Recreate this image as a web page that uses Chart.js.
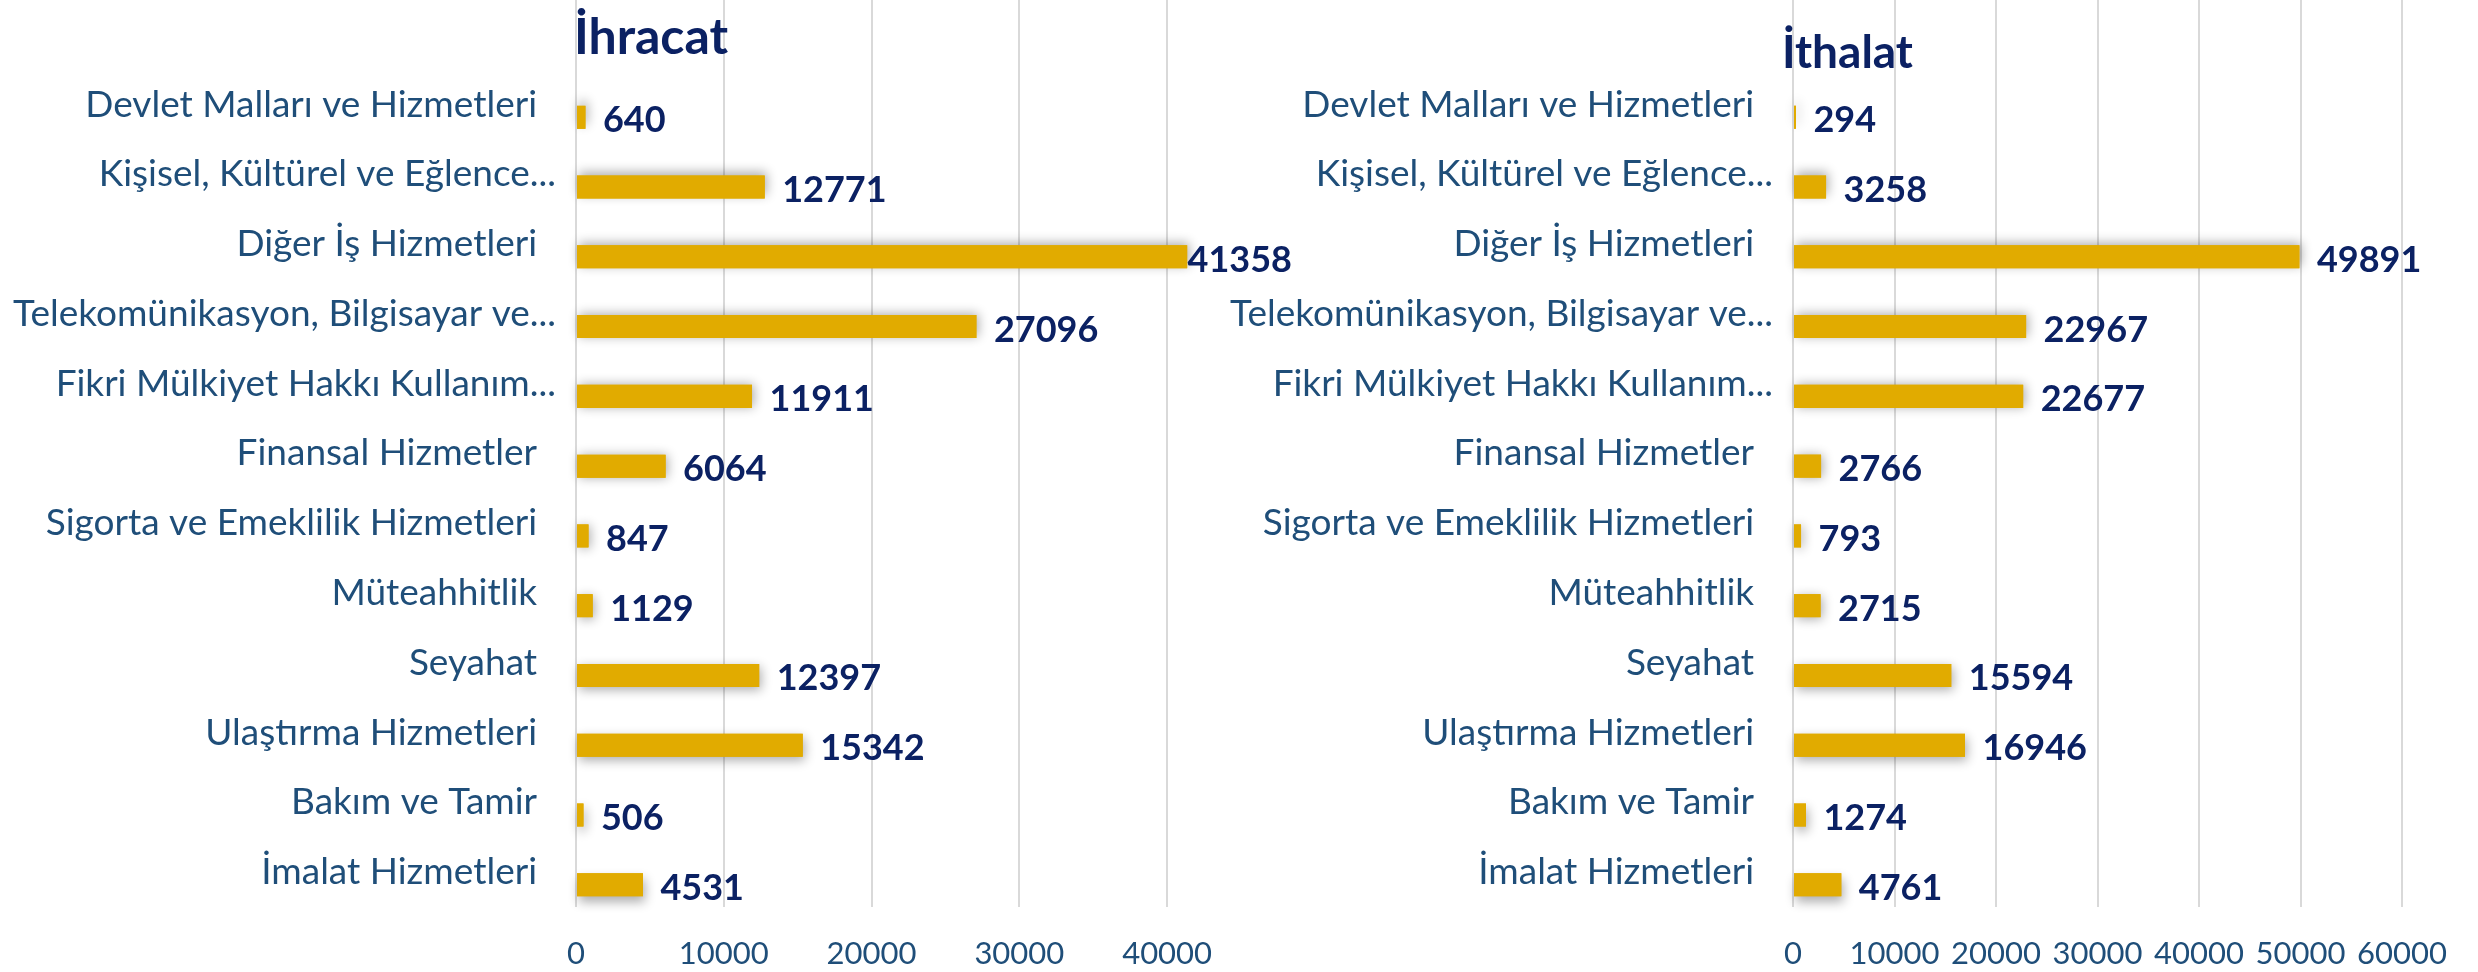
<!DOCTYPE html>
<html>
<head>
<meta charset="utf-8">
<script src="https://cdn.jsdelivr.net/npm/chart.js@4.4.1/dist/chart.umd.min.js"></script>
<style>
  html, body { margin: 0; padding: 0; background: #ffffff; width: 2478px; height: 972px; overflow: hidden; }
  .panel { position: absolute; top: 0; }
  #panelExport { left: 0; }
  #panelImport { left: 1200px; }
</style>
</head>
<body>
<div class="panel" id="panelExport"><canvas id="chartExport" width="1300" height="972"></canvas></div>
<div class="panel" id="panelImport"><canvas id="chartImport" width="1278" height="972"></canvas></div>
<script>
// ---------- DATA ----------
const categories = [
  'Devlet Malları ve Hizmetleri',
  'Kişisel, Kültürel ve Eğlence...',
  'Diğer İş Hizmetleri',
  'Telekomünikasyon, Bilgisayar ve...',
  'Fikri Mülkiyet Hakkı Kullanım...',
  'Finansal Hizmetler',
  'Sigorta ve Emeklilik Hizmetleri',
  'Müteahhitlik',
  'Seyahat',
  'Ulaştırma Hizmetleri',
  'Bakım ve Tamir',
  'İmalat Hizmetleri'
];
const exportValues = [640, 12771, 41358, 27096, 11911, 6064, 847, 1129, 12397, 15342, 506, 4531];
const importValues = [294, 3258, 49891, 22967, 22677, 2766, 793, 2715, 15594, 16946, 1274, 4761];
const exportTicks = [0, 10000, 20000, 30000, 40000];
const importTicks = [0, 10000, 20000, 30000, 40000, 50000, 60000];
const exportTitle = 'İhracat';
const importTitle = 'İthalat';

// ---------- STYLE ----------
const FONT = 'Lato';
const BAR_COLOR = '#E1AB00';
const NAVY = '#0B2163';
const LABEL_COLOR = '#1F4E79';
const GRID_COLOR = '#D9D9D9';

// bar shadow (perspective-like haze)
const barShadow = {
  id: 'barShadow',
  beforeDatasetDraw(chart, args) {
    if (args.index !== 1) return;
    const ctx = chart.ctx;
    const area = chart.chartArea;
    const mid = (area.top + area.bottom) / 2;
    const half = (area.bottom - area.top) / 2;
    args.meta.data.forEach((bar, i) => {
      if (chart.data.datasets[1].data[i] == null) return;
      ctx.save();
      ctx.shadowColor = 'rgba(0,0,0,0.32)';
      ctx.shadowBlur = 11;
      ctx.shadowOffsetX = 2;
      ctx.shadowOffsetY = (bar.y - mid) / half * 6;
      bar.draw(ctx, area);
      ctx.restore();
    });
  }
};

// value labels (outside end, kept inside the chart box)
const valueLabels = {
  id: 'valueLabels',
  afterDatasetsDraw(chart) {
    const ctx = chart.ctx;
    const meta = chart.getDatasetMeta(1);
    const vals = chart.data.datasets[1].data;
    ctx.save();
    ctx.font = 'bold 36px ' + FONT;
    ctx.fillStyle = NAVY;
    ctx.textAlign = 'left';
    ctx.textBaseline = 'alphabetic';
    meta.data.forEach((bar, i) => {
      const v = vals[i];
      if (v == null) return;
      const txt = String(v);
      const w = ctx.measureText(txt).width;
      const x = Math.min(bar.x + 17.5, chart.width - 8 - w);
      ctx.fillText(txt, x, bar.y + 15);
    });
    ctx.restore();
  }
};

// panel title, aligned to the plot area
const panelTitle = {
  id: 'panelTitle',
  afterDraw(chart, args, opts) {
    const ctx = chart.ctx;
    ctx.save();
    ctx.font = 'bold ' + opts.size + 'px ' + FONT;
    ctx.fillStyle = NAVY;
    ctx.textAlign = 'left';
    ctx.textBaseline = 'alphabetic';
    ctx.fillText(opts.text, chart.chartArea.left + opts.dx, opts.baseline);
    ctx.restore();
  }
};

function makeChart(canvasId, values, ticks, xMax, axisWidth, padRight, titleOpts) {
  const labels = [''].concat(categories);
  return new Chart(document.getElementById(canvasId), {
    type: 'bar',
    data: {
      labels: labels,
      datasets: [
        { data: labels.map(() => null), backgroundColor: 'rgba(0,0,0,0)' },
        { data: [null].concat(values), backgroundColor: BAR_COLOR, borderWidth: 0 }
      ]
    },
    options: {
      indexAxis: 'y',
      responsive: false,
      animation: false,
      layout: { padding: { left: 0, right: padRight, top: 0, bottom: 0 } },
      datasets: { bar: { categoryPercentage: 0.725, barPercentage: 0.91 } },
      plugins: {
        legend: { display: false },
        tooltip: { enabled: false },
        panelTitle: titleOpts
      },
      scales: {
        x: {
          type: 'linear',
          min: 0,
          max: xMax,
          afterBuildTicks: (s) => { s.ticks = ticks.map(v => ({ value: v })); },
          afterFit: (s) => { s.height = 65; },
          grid: { color: GRID_COLOR, lineWidth: 2, drawTicks: false },
          border: { display: false },
          ticks: {
            autoSkip: false,
            maxRotation: 0,
            padding: 28,
            color: LABEL_COLOR,
            font: { family: FONT, size: 31 },
            callback: (v) => String(v)
          }
        },
        y: {
          afterFit: (s) => { s.width = axisWidth; s.paddingTop = 0; s.paddingBottom = 0; },
          grid: { display: false },
          border: { display: false },
          ticks: {
            autoSkip: false,
            padding: 12,
            color: LABEL_COLOR,
            font: { family: FONT, size: 37 },
            callback: function (value) {
              const lab = this.getLabelForValue(value);
              if (!lab) return '';
              return lab.endsWith('...') ? lab : lab + '  ';
            }
          }
        }
      }
    },
    plugins: [barShadow, valueLabels, panelTitle]
  });
}

function draw() {
  makeChart('chartExport', exportValues, exportTicks, 45000, 576, 59,
    { text: exportTitle, size: 50, dx: -2, baseline: 54 });
  makeChart('chartImport', importValues, importTicks, 60000, 593, 76,
    { text: importTitle, size: 46, dx: -11, baseline: 68 });
}

Promise.all([
  document.fonts.load('37px ' + FONT),
  document.fonts.load('bold 36px ' + FONT)
]).then(draw, draw);
</script>
</body>
</html>
